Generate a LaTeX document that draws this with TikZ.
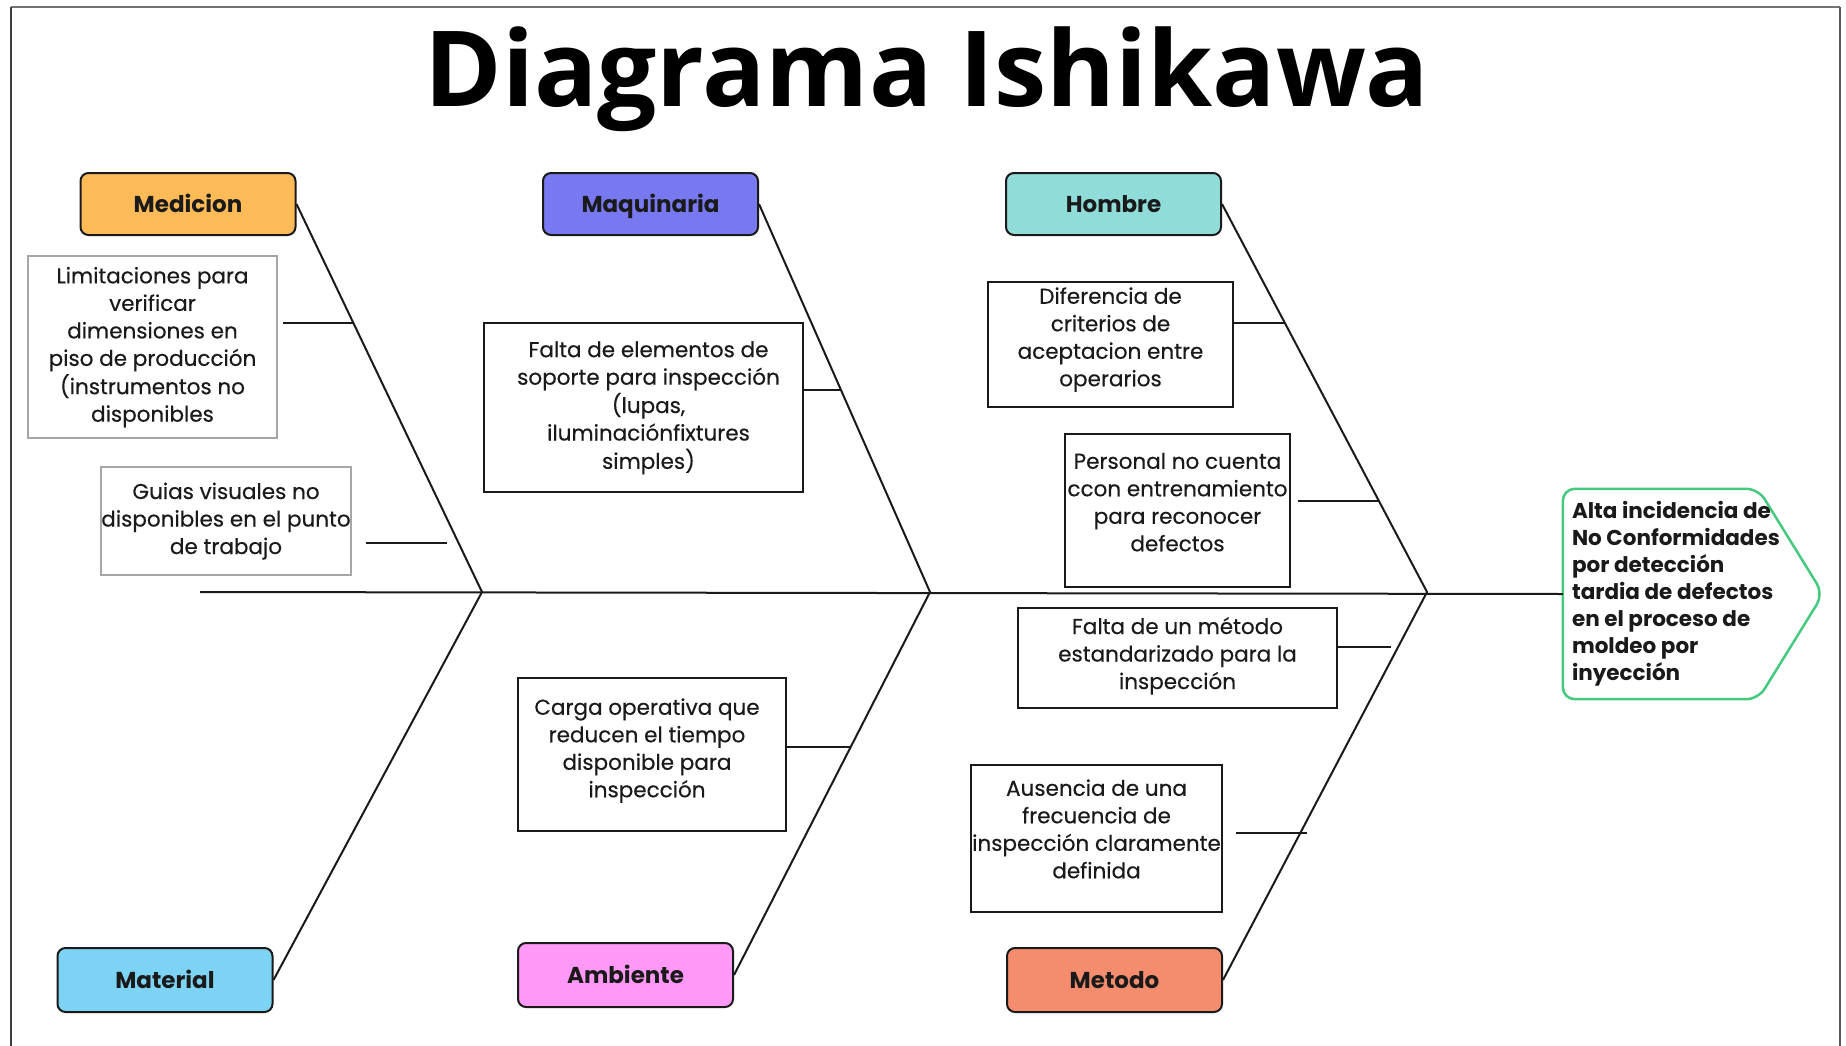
\documentclass[tikz,border=0pt]{standalone}
\usepackage{fontspec}
\setmainfont{Poppins}
\newfontfamily\bodyfont{Poppins}[FakeBold=0.4]
\newfontfamily\titlefont{Open Sans}
\usetikzlibrary{calc}

\definecolor{medc}{HTML}{FDBB58}
\definecolor{maqc}{HTML}{7879F1}
\definecolor{homc}{HTML}{8FDCD8}
\definecolor{matc}{HTML}{7DD3F3}
\definecolor{ambc}{HTML}{FF98F6}
\definecolor{metc}{HTML}{F48D6E}
\definecolor{effc}{HTML}{45C97E}
\definecolor{ink}{HTML}{1A1A1A}

% centred lines of a cause, moved by (#1 right, #2 up) without changing the box
\newcommand\causelines[3]{\hspace*{#1}\raisebox{#2}[\height][\depth]{%
  \begin{tabular}{@{}c@{}}#3\end{tabular}}\hspace*{-#1}}

\begin{document}
\begin{tikzpicture}[x=1pt,y=-1pt,
  bone/.style={line width=2pt, draw=ink},
  cat/.style={draw=ink, line width=2pt, rounded corners=8pt,
    minimum width=215pt, minimum height=62pt, inner sep=0pt,
    text height=16pt, text depth=0pt, text=ink,
    font=\fontsize{23}{27}\selectfont\bfseries},
  cause/.style={draw=ink, line width=2pt, inner sep=0pt,
    text=ink, font=\bodyfont\fontsize{21.5}{27.5}\selectfont},
  softcause/.style={cause, draw=black!35},
]
\useasboundingbox (0,0) rectangle (1846,1046);

% page frame
\draw[line width=2pt, black!55] (11,7) -- (1840,7);
\draw[line width=1.5pt, black!75] (11,7) -- (11,1046);
\draw[line width=2pt, black!65] (1840,7) -- (1840,1046);

% title
\node[anchor=base, inner sep=0pt, font=\titlefont\bfseries\fontsize{105}{105}\selectfont]
  (title) at (927,107) {Diagrama Ishikawa};

% category boxes
\node[cat, fill=medc] (med)  at (188,204)    {Medicion};
\node[cat, fill=maqc] (maq)  at (650.5,204)  {Maquinaria};
\node[cat, fill=homc] (hom)  at (1113.5,204) {Hombre};
\node[cat, fill=matc, minimum height=64pt] (mat)  at (165,980)    {Material};
\node[cat, fill=ambc, minimum height=64pt] (amb)  at (625.5,975)  {Ambiente};
\node[cat, fill=metc, minimum height=64pt] (metd) at (1114.5,980) {Metodo};

% cause boxes
\node[softcause, minimum width=249pt, minimum height=182pt] (c1) at (152.5,347)
  {\causelines{0pt}{0pt}{Limitaciones para\\verificar\\dimensiones en\\piso de producción\\(instrumentos no\\disponibles}};
\node[softcause, minimum width=248pt, minimum height=108pt] (c2) at (226,521)
  {\causelines{0pt}{0pt}{Guias visuales no\\disponibles en el punto\\de trabajo}};
\node[cause, minimum width=319pt, minimum height=169pt] (c3) at (643.5,407.5)
  {\causelines{5pt}{0pt}{Falta de elementos de\\soporte para inspección\\(lupas,\\iluminaciónfixtures\\simples)}};
\node[cause, minimum width=268pt, minimum height=153pt] (c4) at (652,754.5)
  {\causelines{-5pt}{4pt}{Carga operativa que\\reducen el tiempo\\disponible para\\inspección}};
\node[cause, minimum width=245pt, minimum height=125pt] (c5) at (1110.5,344.5)
  {\causelines{0pt}{5pt}{Diferencia de\\criterios de\\aceptacion entre\\operarios}};
\node[cause, minimum width=225pt, minimum height=153pt] (c6) at (1177.5,510.5)
  {\causelines{0pt}{6pt}{Personal no cuenta\\ccon entrenamiento\\para reconocer\\defectos}};
\node[cause, minimum width=319pt, minimum height=100pt] (c7) at (1177.5,658)
  {\causelines{0pt}{2pt}{Falta de un método\\estandarizado para la\\inspección}};
\node[cause, minimum width=251pt, minimum height=147pt] (c8) at (1096.5,838.5)
  {\causelines{0pt}{7pt}{Ausencia de una\\frecuencia de\\inspección claramente\\definida}};

% effect (head of the fish)
\node[minimum width=195pt, minimum height=210pt, inner sep=0pt] (eff) at (1660.5,594) {};
\draw[draw=effc, line width=2.5pt, rounded corners=12pt]
  (eff.north west) -- (eff.north east) -- ($(eff.east)+(65,0)$)
  -- (eff.south east) -- (eff.south west) -- cycle;
\node[anchor=west, inner sep=0pt, align=left, text=ink,
  font=\fontsize{21.5}{27}\selectfont\bfseries]
  (efftext) at ($(eff.west)+(9,0)$)
  {Alta incidencia de\\No Conformidades\\por detección\\tardia de defectos\\en el proceso de\\moldeo por\\inyección};

% spine and junctions
\coordinate (tail) at (200,592);
\coordinate (j1) at (482,592);
\coordinate (j2) at (930,592);
\coordinate (j3) at (1427,592);
\draw[bone] (tail) -- (eff.west);

% main bones
\draw[bone] (med.east) -- (j1) -- (mat.east);
\draw[bone] (maq.east) -- (j2) -- (amb.east);
\draw[bone] (hom.east) -- (j3) -- (metd.east);

% points on the bones where the causes attach
\coordinate (b1) at ($(med.east)!0.3067!(j1)$);
\coordinate (b2) at ($(med.east)!0.8737!(j1)$);
\coordinate (b3) at ($(maq.east)!0.479!(j2)$);
\coordinate (b4) at ($(j2)!0.4047!(amb.east)$);
\coordinate (b5) at ($(hom.east)!0.3067!(j3)$);
\coordinate (b6) at ($(hom.east)!0.7655!(j3)$);
\coordinate (b7) at ($(j3)!0.1418!(metd.east)$);
\coordinate (b8) at ($(j3)!0.621!(metd.east)$);

% cause branches
\draw[bone] ($(b1 -| c1.east)+(5,0)$) -- (b1);
\draw[bone] ($(b2 -| c2.east)+(14,0)$) -- ($(b2)+(-12,0)$);
\draw[bone] (b3 -| c3.east) -- (b3);
\draw[bone] (b4 -| c4.east) -- (b4);
\draw[bone] (b5 -| c5.east) -- (b5);
\draw[bone] ($(b6 -| c6.east)+(7,0)$) -- (b6);
\draw[bone] (b7 -| c7.east) -- ($(b7)+(-7,0)$);
\draw[bone] ($(b8 -| c8.east)+(13,0)$) -- ($(b8)+(7,0)$);
\end{tikzpicture}
\end{document}
